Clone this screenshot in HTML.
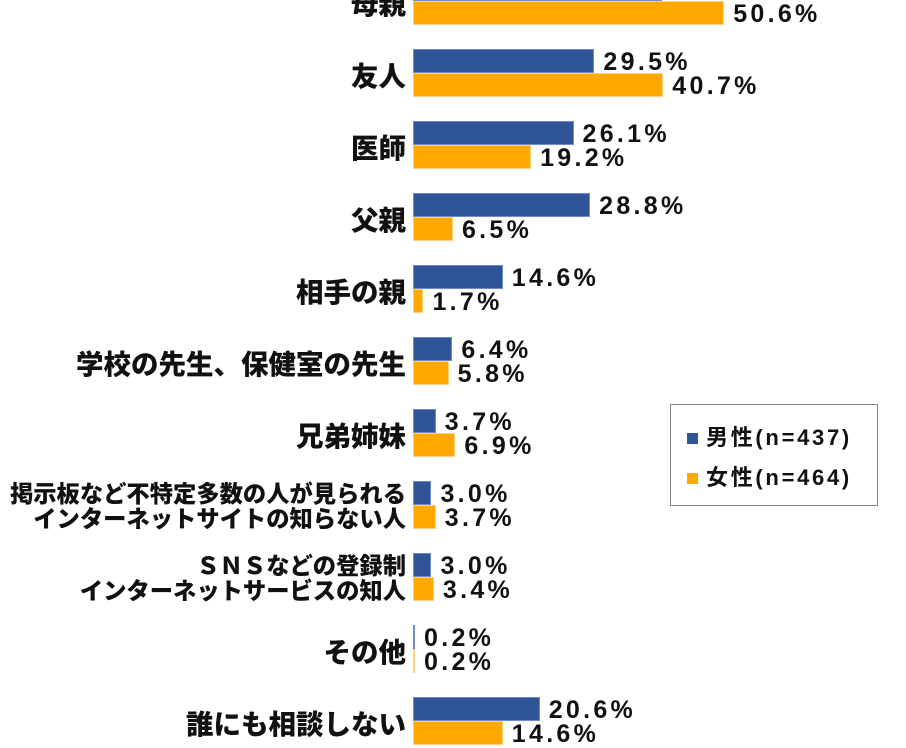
<!DOCTYPE html>
<html><head><meta charset="utf-8"><style>
body{margin:0;width:906px;height:724px;overflow:hidden;background:#fff;position:relative;font-family:"Liberation Sans","Noto Sans CJK JP",sans-serif;font-weight:bold;color:#111}
.b{position:absolute;left:413px;height:24px;box-sizing:border-box}
.m{background:#2F5597;border:1px solid #6d8ccc}
.f{background:#FFA800;border:1px solid #ffd27a}
.v{position:absolute;font-size:25px;letter-spacing:3.3px;line-height:24px;white-space:nowrap}
.l{position:absolute;right:500px;font-size:27.5px;text-align:right;white-space:nowrap;line-height:28px;font-family:"Noto Sans CJK JP",sans-serif;font-weight:900}
.lg{position:absolute;left:670px;top:404px;width:208px;height:102px;border:1px solid #888;box-sizing:border-box}
.lg div{position:absolute;left:16px;font-size:22px;letter-spacing:2.7px;line-height:24px}
.lg span{display:inline-block;width:11px;height:11px;margin-right:8px;vertical-align:1px}
</style></head><body>
<div id="c"></div>
<div class="lg"><div style="top:21px"><span style="background:#2F5597"></span>男性(n=437)</div><div style="top:61px"><span style="background:#FFA800"></span>女性(n=464)</div></div>
<script>
var d=[["母親",40.5,50.6],["友人",29.5,40.7],["医師",26.1,19.2],["父親",28.8,6.5],["相手の親",14.6,1.7],["学校の先生、保健室の先生",6.4,5.8],["兄弟姉妹",3.7,6.9],["掲示板など不特定多数の人が見られる<br>インターネットサイトの知らない人",3.0,3.7],["ＳＮＳなどの登録制<br>インターネットサービスの知人",3.0,3.4],["その他",0.2,0.2],["誰にも相談しない",20.6,14.6]];
var h="",s=6.15;
d.forEach(function(r,i){var t=-23+72*i;
var wm=Math.max(r[1]*s,2),wf=Math.max(r[2]*s,2);
h+='<div class="b m" style="top:'+t+'px;width:'+wm+'px"></div>';
h+='<div class="b f" style="top:'+(t+24)+'px;width:'+wf+'px"></div>';
h+='<div class="v" style="top:'+(t+1)+'px;left:'+(413+wm+9)+'px">'+r[1].toFixed(1)+'%</div>';
h+='<div class="v" style="top:'+(t+25)+'px;left:'+(413+wf+9)+'px">'+r[2].toFixed(1)+'%</div>';
var two=r[0].indexOf("<br>")>=0;
h+='<div class="l" style="top:'+(two?t-1:t+11)+'px;'+(two?'font-size:23.3px;line-height:25px':'')+'">'+r[0]+'</div>';});
document.getElementById("c").innerHTML=h;
</script>
</body></html>
